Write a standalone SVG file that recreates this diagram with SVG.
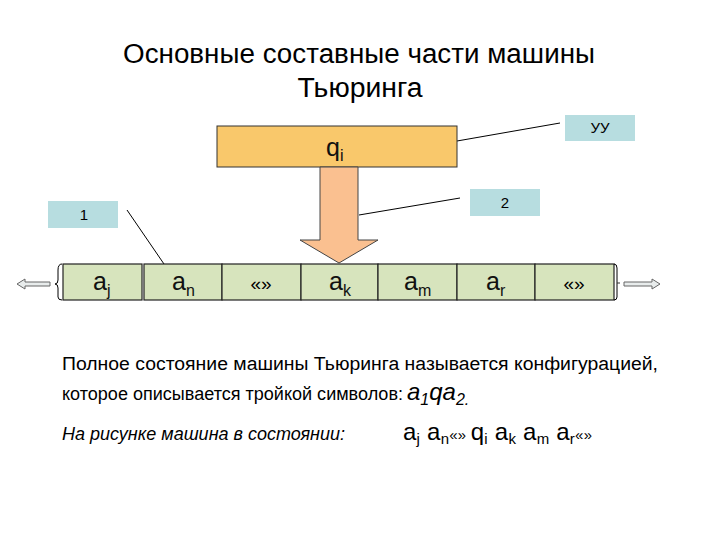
<svg xmlns="http://www.w3.org/2000/svg" width="720" height="540" viewBox="0 0 720 540">
<style>
.t{font-family:"Liberation Sans",Arial,sans-serif;fill:#000}
.lbl{fill:#B7DDE0}
.cell{fill:#D7E4BD;stroke:#222;stroke-width:1.2}
.ln{stroke:#000;stroke-width:1;fill:none}
.sym{font-family:"Liberation Sans",Arial,sans-serif;font-size:25px;fill:#111}
.sub{font-size:16px}
.oa{fill:#E8ECEC;stroke:#666;stroke-width:1}
</style>
<rect width="720" height="540" fill="#fff"/>
<g id="title">
<text class="t" x="359" y="63" font-size="27" text-anchor="middle" textLength="472" lengthAdjust="spacingAndGlyphs">Основные составные части машины</text>
<text class="t" x="360" y="97" font-size="27" text-anchor="middle" textLength="125" lengthAdjust="spacingAndGlyphs">Тьюринга</text>
</g>
<g id="connectors">
<line class="ln" x1="457" y1="141" x2="560" y2="123"/>
<line class="ln" x1="359" y1="215" x2="460" y2="198"/>
<line class="ln" x1="127" y1="210" x2="164" y2="264"/>
</g>
<g id="control">
<rect x="217" y="126" width="240" height="41" fill="#F9C86B" stroke="#333" stroke-width="1"/>
<text class="sym" x="326" y="156">q<tspan class="sub" dy="5">i</tspan></text>
</g>
<g id="label-uu">
<rect class="lbl" x="565" y="115" width="70" height="26"/>
<text class="t" x="600" y="133" font-size="15" text-anchor="middle">УУ</text>
</g>
<g id="label-2">
<rect class="lbl" x="470" y="189" width="70" height="27"/>
<text class="t" x="505" y="208" font-size="15" text-anchor="middle">2</text>
</g>
<g id="label-1">
<rect class="lbl" x="48" y="201" width="70" height="27"/>
<text class="t" x="84" y="220" font-size="15" text-anchor="middle">1</text>
</g>
<g id="head-arrow">
<polygon points="320,167 358,167 358,240 378,240 339,263 300,240 320,240" fill="#FAC090" stroke="#444" stroke-width="1"/>
</g>
<g id="tape">
<path d="M62,264 Q58,264 58,270 L58,280 Q58,284 55,284 Q58,284 58,288 L58,297 Q58,300 62,300" class="ln" stroke="#333"/>
<rect class="cell" x="63" y="264" width="79" height="36"/>
<rect class="cell" x="144" y="264" width="78" height="36"/>
<rect class="cell" x="222" y="264" width="79" height="36"/>
<rect class="cell" x="301" y="264" width="77" height="36"/>
<rect class="cell" x="378" y="264" width="79" height="36"/>
<rect class="cell" x="457" y="264" width="78" height="36"/>
<rect class="cell" x="535" y="264" width="79" height="36"/>
<path d="M614,264 Q617,264 617,268 L617,297 Q617,300 614,300" class="ln" stroke="#333"/>
<line x1="617" y1="283" x2="620" y2="283" stroke="#333"/>
<text class="sym" x="93" y="290">a<tspan class="sub" dy="6">j</tspan></text>
<text class="sym" x="172" y="290">a<tspan class="sub" dy="6">n</tspan></text>
<text class="t" x="261" y="290" font-size="19" text-anchor="middle">«»</text>
<text class="sym" x="329" y="290">a<tspan class="sub" dy="6">k</tspan></text>
<text class="sym" x="404" y="290">a<tspan class="sub" dy="6">m</tspan></text>
<text class="sym" x="486" y="290">a<tspan class="sub" dy="6">r</tspan></text>
<text class="t" x="574" y="290" font-size="19" text-anchor="middle">«»</text>
</g>
<g id="arrow-left">
<polygon class="oa" points="17,284 25,279 25,282 50,282 50,286 25,286 25,289"/>
</g>
<g id="arrow-right">
<polygon class="oa" points="660,284 652,279 652,282 624,282 624,286 652,286 652,289"/>
</g>
<g id="notes">
<text class="t" x="62" y="370" font-size="18" textLength="596" lengthAdjust="spacingAndGlyphs">Полное состояние машины Тьюринга называется конфигурацией,</text>
<text class="t" x="62" y="400" font-size="18" textLength="341" lengthAdjust="spacingAndGlyphs">которое описывается тройкой символов:</text>
<text class="t" x="407" y="400" font-size="24" font-style="italic">a<tspan font-size="16" dy="5">1</tspan><tspan dy="-5">qa</tspan><tspan font-size="16" dy="5">2.</tspan></text>
<text class="t" x="62" y="440" font-size="18" font-style="italic" textLength="283" lengthAdjust="spacingAndGlyphs">На рисунке машина в состоянии:</text>
<text class="t" x="403" y="440" font-size="24" textLength="189" lengthAdjust="spacing">a<tspan font-size="15" dy="4">j</tspan><tspan dy="-4"> a</tspan><tspan font-size="15" dy="4">n</tspan><tspan font-size="15" dy="-4">«» </tspan><tspan>q</tspan><tspan font-size="15" dy="4">i</tspan><tspan dy="-4"> a</tspan><tspan font-size="15" dy="4">k</tspan><tspan dy="-4"> a</tspan><tspan font-size="15" dy="4">m</tspan><tspan dy="-4"> a</tspan><tspan font-size="15" dy="4">r</tspan><tspan font-size="15" dy="-4">«»</tspan></text>
</g>
</svg>
